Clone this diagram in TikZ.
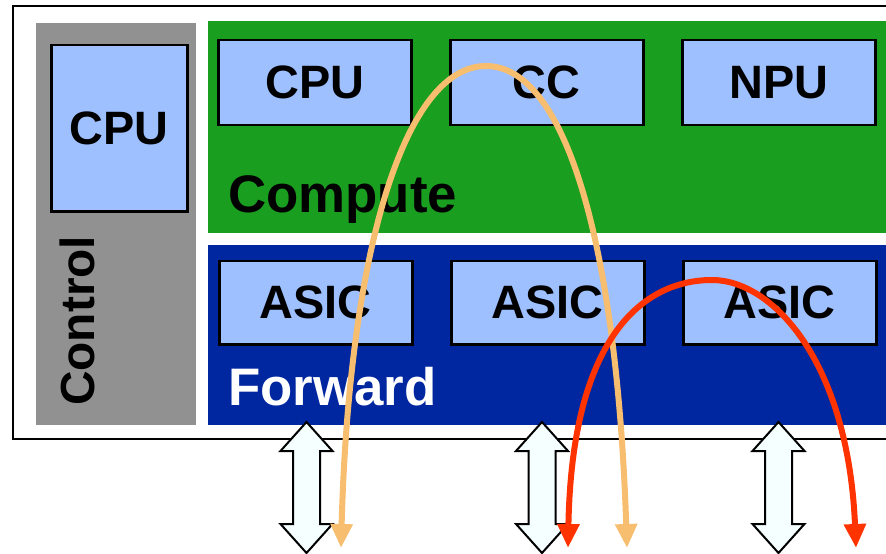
\documentclass[tikz,border=0pt]{standalone}
\usepackage{fontspec}
\setmainfont{Liberation Sans}
\usetikzlibrary{arrows.meta}
\definecolor{ctrlgray}{HTML}{919191}
\definecolor{compgreen}{HTML}{1A9E1F}
\definecolor{fwdblue}{HTML}{0026A0}
\definecolor{boxblue}{HTML}{9EC0FF}
\definecolor{arrwhite}{HTML}{F5FFFF}
\definecolor{curveorange}{HTML}{F6BE6E}
\definecolor{curvered}{HTML}{FF3300}
\tikzset{
  panel/.style={anchor=north west, inner sep=0pt, outer sep=0pt, draw=none},
  unit/.style={anchor=north west, inner sep=0pt, draw=black, line width=2.5bp, fill=boxblue,
    font=\fontsize{47}{49}\selectfont\bfseries, text=black},
  bigtext/.style={inner sep=0pt, font=\fontsize{53}{55}\selectfont\bfseries},
  dblarrow/.style={draw=black, line width=2bp, fill=arrwhite, line join=miter},
  curve/.style={line width=6bp, {Triangle[width=21bp,length=24bp]}-{Triangle[width=21bp,length=24bp]}}
}
\begin{document}
\begin{tikzpicture}[x=1bp,y=-1bp]
\useasboundingbox (0,0) rectangle (886,554);
\fill[white] (0,0) rectangle (886,554);
% outer frame
\draw[line width=2.5bp] (13,6) rectangle (905,439);
% panels
\node[panel, fill=ctrlgray, minimum width=160bp, minimum height=402bp] (ctrl) at (36,23) {};
\node[panel, fill=compgreen, minimum width=690bp, minimum height=212bp] (comp) at (208,21) {};
\node[panel, fill=fwdblue, minimum width=690bp, minimum height=180bp] (fwd) at (208,245) {};
% boxes
\node[unit, minimum width=136bp, minimum height=166bp] (ccpu) at (50,44) {CPU};
\node[unit, minimum width=193bp, minimum height=85bp] (cpu) at (217,39) {CPU};
\node[unit, minimum width=193bp, minimum height=85bp] (cc) at (449,39) {CC};
\node[unit, minimum width=193bp, minimum height=85bp] (npu) at (681,39) {NPU};
\node[unit, minimum width=193bp, minimum height=83bp] (asic1) at (218,260) {ASIC};
\node[unit, minimum width=193bp, minimum height=83bp] (asic2) at (450,260) {ASIC};
\node[unit, minimum width=193bp, minimum height=83bp] (asic3) at (682,260) {ASIC};
% labels
\node[bigtext, anchor=base west] (complbl) at (228,213) {Compute};
\node[bigtext, anchor=base west, text=white] (fwdlbl) at (228,405) {Forward};
\node[inner sep=0pt, anchor=base west, rotate=90, font=\fontsize{48}{50}\selectfont\bfseries] (ctrllbl) at (94,406) {Control};
% double arrows
\foreach \cx/\nm in {306.5/da1, 542/da2, 778.5/da3}{
  \draw[dblarrow] (\cx,422) -- ++(26,29) -- ++(-12.5,0) -- (\cx+13.5,524) -- ++(12.5,0)
    -- (\cx,553) -- (\cx-26,524) -- ++(12.5,0) -- (\cx-13.5,451) -- ++(-12.5,0) -- cycle;
  \coordinate (\nm) at (\cx,488);
}
% curved arrows
\coordinate (o1) at (341,548);
\coordinate (otop) at (486,66);
\coordinate (o2) at (627,548);
\draw[curve, curveorange] (o1) .. controls (349,250) and (405,66) .. (otop)
   .. controls (567,66) and (617,250) .. (o2);
\coordinate (r1) at (568,548);
\coordinate (rtop) at (712,280);
\coordinate (r2) at (856,548);
\draw[curve, curvered] (r1) .. controls (572,330) and (648,280) .. (rtop)
   .. controls (772,280) and (848,360) .. (r2);
\end{tikzpicture}
\end{document}
